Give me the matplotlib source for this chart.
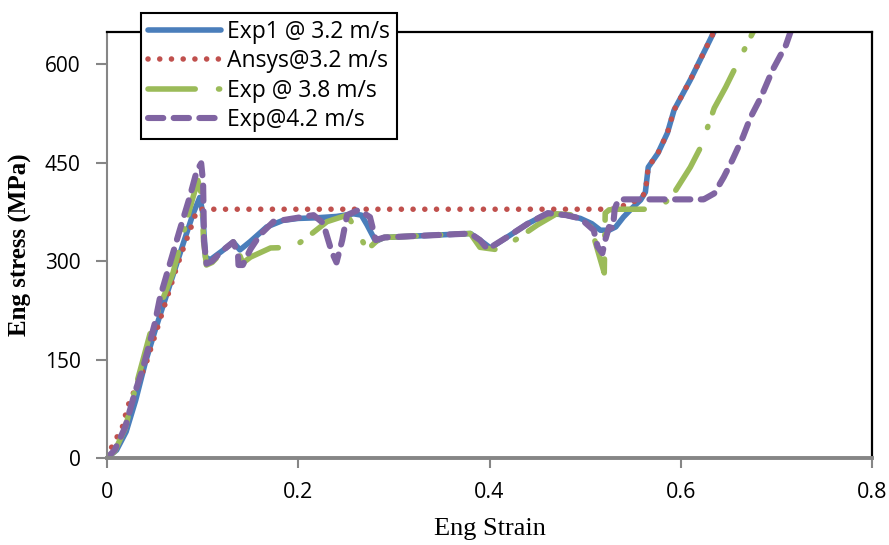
import matplotlib
matplotlib.use("Agg")
import matplotlib.pyplot as plt

# Exp1 @ 3.2 m/s
exp1_x = [0, 0.01, 0.02, 0.03, 0.04, 0.05, 0.06, 0.07, 0.08, 0.09, 0.097, 0.100, 0.103, 0.108,
          0.12, 0.132, 0.139, 0.15, 0.167, 0.184, 0.2, 0.22, 0.24, 0.258, 0.266, 0.272, 0.281,
          0.29, 0.32, 0.35, 0.38, 0.39, 0.401, 0.42, 0.44, 0.461, 0.48, 0.495, 0.507, 0.516,
          0.525, 0.532, 0.54, 0.55, 0.558, 0.563, 0.566, 0.576, 0.586, 0.593, 0.61, 0.635]
exp1_y = [0, 12, 40, 88, 145, 193, 238, 283, 328, 372, 397, 375, 306, 302,
          315, 329, 317, 330, 352, 362, 365, 366, 368, 372, 370, 355, 330,
          336, 338, 340, 342, 332, 320, 338, 357, 373, 370, 365, 357, 347,
          347, 352, 367, 382, 393, 405, 443, 464, 495, 530, 576, 650]

# Ansys@3.2 m/s
ansys_x = [0, 0.005, 0.016, 0.022, 0.032, 0.04, 0.063, 0.071, 0.078, 0.083, 0.087, 0.09, 0.095,
           0.53, 0.55, 0.558, 0.563, 0.566, 0.576, 0.586, 0.593, 0.61, 0.635]
ansys_y = [0, 17, 47, 80, 114, 140, 245, 282, 312, 332, 347, 362, 379,
           379, 390, 395, 405, 443, 464, 495, 530, 576, 650]

# Exp @ 3.8 m/s
exp2_x = [0, 0.008, 0.019, 0.029, 0.047, 0.069, 0.087, 0.095, 0.099, 0.101, 0.104, 0.11, 0.12,
          0.132, 0.138, 0.142, 0.15, 0.171, 0.195, 0.21, 0.23, 0.251, 0.262, 0.272, 0.283, 0.29,
          0.32, 0.35, 0.38, 0.39, 0.41, 0.43, 0.45, 0.47, 0.49, 0.506, 0.511, 0.52, 0.521, 0.525,
          0.533, 0.565, 0.58, 0.59, 0.60, 0.61, 0.621, 0.635, 0.647, 0.665, 0.676]
exp2_y = [0, 10, 45, 103, 200, 282, 382, 423, 400, 330, 294, 298, 313,
          329, 312, 297, 306, 320, 321, 337, 360, 370, 345, 317, 332, 336,
          338, 340, 342, 321, 317, 335, 355, 372, 370, 352, 327, 282, 373, 378,
          379, 379, 385, 397, 420, 443, 474, 533, 565, 618, 650]

# Exp@4.2 m/s
exp3_x = [0, 0.008, 0.019, 0.029, 0.037, 0.05, 0.0555, 0.076, 0.086, 0.094, 0.0985, 0.1005,
          0.1015, 0.104, 0.11, 0.12, 0.132, 0.137, 0.1375, 0.142, 0.15, 0.16, 0.174, 0.195,
          0.216, 0.226, 0.235, 0.24, 0.246, 0.251, 0.263, 0.275, 0.281, 0.29, 0.32, 0.35, 0.38,
          0.39, 0.398, 0.42, 0.44, 0.461, 0.48, 0.495, 0.509, 0.513, 0.518, 0.521, 0.525, 0.529,
          0.531, 0.535, 0.61, 0.624, 0.635, 0.645, 0.654, 0.665, 0.673, 0.684, 0.696, 0.71, 0.715]
exp3_y = [0, 12, 47, 99, 134, 205, 245, 347, 395, 438, 449, 420,
          330, 296, 300, 315, 329, 310, 294, 294, 318, 340, 360, 365,
          370, 358, 314, 298, 332, 370, 378, 367, 332, 336, 338, 340, 342,
          332, 318, 338, 357, 373, 370, 365, 347, 322, 312, 332, 352, 350,
          380, 394, 394, 394, 403, 428, 454, 489, 519, 550, 591, 629, 650]

x_ticks = [0, 0.2, 0.4, 0.6, 0.8]
x_labels = ['0', '0.2', '0.4', '0.6', '0.8']
y_ticks = [0, 150, 300, 450, 600]
y_labels = ['0', '150', '300', '450', '600']

fig = plt.figure(figsize=(8.89, 5.45), dpi=100)
ax = fig.add_axes([107/889, 87/545, 765/889, 426/545])

ax.plot(exp1_x, exp1_y, color='#4A7EBB', lw=4.0, solid_capstyle='round', solid_joinstyle='round',
        label='Exp1 @ 3.2 m/s')
ax.plot(ansys_x, ansys_y, color='#C0504D', lw=4.0, linestyle=(0, (0.01, 2.1)),
        dash_capstyle='round', label='Ansys@3.2 m/s')
ax.plot(exp2_x, exp2_y, color='#9BBB59', lw=4.0, linestyle=(0, (8.5, 4.2, 0.2, 2.6)),
        dash_capstyle='round', label='Exp @ 3.8 m/s')
ax.plot(exp3_x, exp3_y, color='#8064A2', lw=4.4, linestyle=(0, (2.5, 1.7)),
        dash_capstyle='round', label='Exp@4.2 m/s')

ax.set_xlim(0, 0.8)
ax.set_ylim(0, 649)

ax.set_xticks(x_ticks, labels=x_labels, fontfamily='Open Sans', fontsize=15.5)
ax.set_yticks(y_ticks, labels=y_labels, fontfamily='Open Sans', fontsize=15)
ax.tick_params(axis='x', direction='out', length=7, width=1.5, color='#868686', pad=10)
ax.tick_params(axis='y', direction='out', length=8, width=1.5, color='#868686', pad=11)

for side in ['left', 'bottom']:
    ax.spines[side].set_color('#868686')
ax.spines['left'].set_linewidth(1.5)
ax.spines['bottom'].set_linewidth(2.8)
for side in ['top', 'right']:
    ax.spines[side].set_color('black')
    ax.spines[side].set_linewidth(1.6)

ax.set_xlabel('Eng Strain', fontfamily='Liberation Serif', fontsize=19, labelpad=11)
ax.set_ylabel('Eng stress (MPa)', fontfamily='Liberation Serif', fontsize=18, fontweight='bold', labelpad=9)

leg = ax.legend(loc='upper left', bbox_to_anchor=(141/889, 1 - 13/545), bbox_transform=fig.transFigure,
                borderaxespad=0, prop={'family': 'Open Sans', 'size': 16.5}, handlelength=3.2,
                handletextpad=0.25, borderpad=0.3, labelspacing=0.24, fancybox=False, framealpha=1)
leg.get_frame().set_edgecolor('black')
leg.get_frame().set_linewidth(1.5)
leg.set_zorder(5)

plt.savefig("out.png", dpi=100)
